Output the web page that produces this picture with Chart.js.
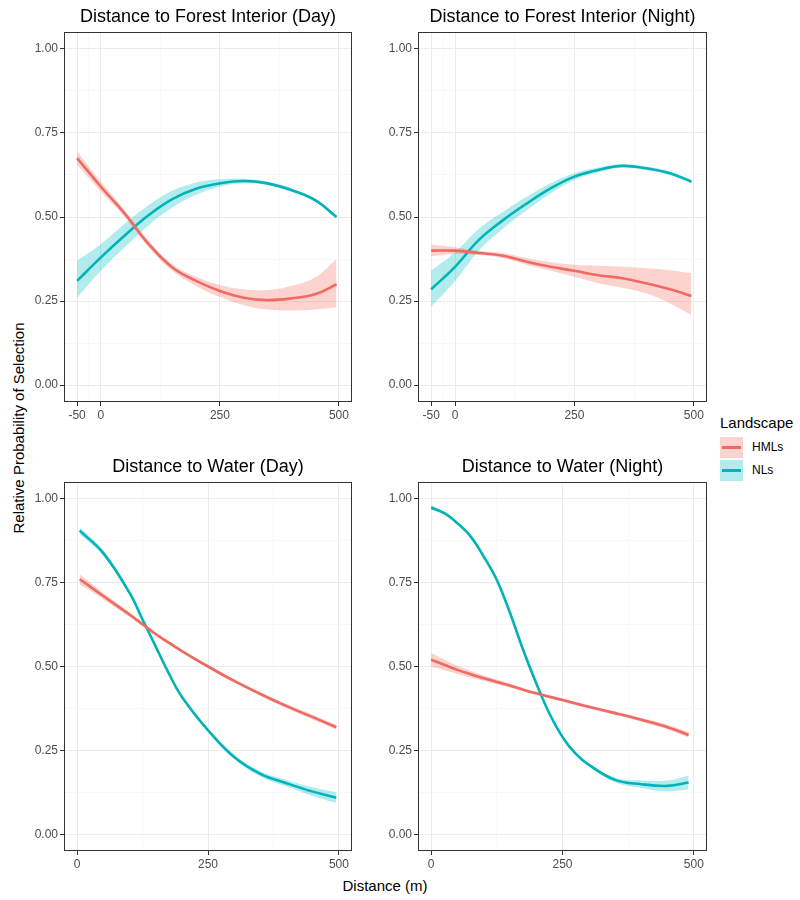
<!DOCTYPE html>
<html lang="en">
<head>
<meta charset="UTF-8">
<title>Relative Probability of Selection</title>
<script src="https://cdn.jsdelivr.net/npm/chart.js"></script>
<style>
  body { margin: 0; background: #fff; font-family: Arial, "Liberation Sans", sans-serif; }
  #wrap { position: relative; width: 800px; height: 900px; overflow: hidden; }
  #wrap canvas { position: absolute; }
  .ytitle { position: absolute; left: 18px; top: 428px; transform: translate(-50%, -50%) rotate(-90deg); font-size: 15px; color: #000; white-space: nowrap; }
  .xtitle { position: absolute; left: 385px; top: 885px; transform: translate(-50%, -50%); font-size: 15px; color: #000; white-space: nowrap; }
  .ltitle { position: absolute; left: 720px; top: 414px; font-size: 15px; line-height: 18px; color: #000; }
  .key { position: absolute; left: 720px; width: 23px; height: 21px; }
  .key i { position: absolute; left: 2px; right: 2px; top: 9px; height: 3px; }
  .lab { position: absolute; left: 752px; font-size: 12px; line-height: 21px; color: #000; }
</style>
</head>
<body>
<div id="wrap">
  <div class="ytitle">Relative Probability of Selection</div>
  <div class="xtitle">Distance (m)</div>
  <div class="ltitle">Landscape</div>
  <div class="key" style="top:437px; background:rgba(248,118,109,0.32)"><i style="background:#EF6A62"></i></div>
  <div class="lab" style="top:437px">HMLs</div>
  <div class="key" style="top:460px; background:rgba(0,191,196,0.3)"><i style="background:#00B3B9"></i></div>
  <div class="lab" style="top:460px">NLs</div>
</div>
<script>
// x ticks
const forestTicks = [-50, 0, 250, 500];
const forestMinor = [-25, 125, 375];
const waterTicks = [0, 250, 500];
const waterMinor = [125, 375];
const yTicks = [0, 0.25, 0.5, 0.75, 1];
const yMinor = [0.125, 0.375, 0.625, 0.875];

// Distance to Forest Interior (Day)
const xForestDay = [-50, 0, 50, 100, 150, 200, 250, 300, 350, 400, 450, 495];
const hmlForestDay   = [0.675, 0.59, 0.51, 0.42, 0.35, 0.31, 0.28, 0.26, 0.253, 0.258, 0.27, 0.30];
const hmlForestDayLo = [0.655, 0.575, 0.50, 0.41, 0.34, 0.295, 0.262, 0.238, 0.225, 0.222, 0.225, 0.232];
const hmlForestDayHi = [0.695, 0.605, 0.52, 0.43, 0.36, 0.322, 0.298, 0.285, 0.283, 0.295, 0.32, 0.375];
const nlForestDay   = [0.31, 0.38, 0.445, 0.505, 0.553, 0.584, 0.60, 0.607, 0.60, 0.58, 0.55, 0.50];
const nlForestDayLo = [0.26, 0.34, 0.41, 0.475, 0.528, 0.566, 0.59, 0.60, 0.595, 0.575, 0.545, 0.495];
const nlForestDayHi = [0.37, 0.42, 0.48, 0.535, 0.578, 0.602, 0.612, 0.614, 0.605, 0.585, 0.555, 0.505];

// Distance to Forest Interior (Night)
const xForestNight = [-50, 0, 50, 100, 150, 200, 250, 300, 350, 400, 450, 495];
const hmlForestNight   = [0.40, 0.40, 0.393, 0.385, 0.367, 0.352, 0.34, 0.327, 0.318, 0.303, 0.285, 0.265];
const hmlForestNightLo = [0.383, 0.39, 0.387, 0.378, 0.358, 0.34, 0.322, 0.303, 0.29, 0.273, 0.243, 0.208];
const hmlForestNightHi = [0.418, 0.41, 0.40, 0.393, 0.378, 0.366, 0.358, 0.355, 0.352, 0.348, 0.342, 0.333];
const nlForestNight   = [0.285, 0.352, 0.432, 0.49, 0.54, 0.585, 0.62, 0.64, 0.652, 0.645, 0.63, 0.605];
const nlForestNightLo = [0.233, 0.31, 0.40, 0.465, 0.52, 0.57, 0.61, 0.633, 0.647, 0.64, 0.625, 0.60];
const nlForestNightHi = [0.34, 0.395, 0.465, 0.515, 0.56, 0.60, 0.63, 0.647, 0.657, 0.65, 0.635, 0.61];

// Distance to Water (Day)
const xWaterDay = [5, 50, 100, 125, 150, 175, 200, 250, 300, 350, 400, 450, 495];
const hmlWaterDay   = [0.76, 0.71, 0.655, 0.626, 0.597, 0.571, 0.546, 0.50, 0.457, 0.418, 0.382, 0.349, 0.319];
const hmlWaterDayLo = [0.745, 0.70, 0.648, 0.620, 0.592, 0.566, 0.541, 0.495, 0.452, 0.413, 0.376, 0.342, 0.312];
const hmlWaterDayHi = [0.775, 0.72, 0.662, 0.632, 0.602, 0.576, 0.551, 0.505, 0.462, 0.423, 0.388, 0.356, 0.326];
const nlWaterDay   = [0.905, 0.838, 0.72, 0.64, 0.56, 0.48, 0.41, 0.31, 0.23, 0.18, 0.152, 0.127, 0.109];
const nlWaterDayLo = [0.895, 0.83, 0.714, 0.635, 0.555, 0.475, 0.405, 0.305, 0.224, 0.172, 0.142, 0.114, 0.093];
const nlWaterDayHi = [0.915, 0.846, 0.726, 0.645, 0.565, 0.485, 0.415, 0.315, 0.236, 0.188, 0.162, 0.140, 0.125];

// Distance to Water (Night)
const xWaterNight = [0, 25, 50, 75, 100, 125, 150, 175, 200, 225, 250, 275, 300, 350, 400, 450, 490];
const hmlWaterNight   = [0.52, 0.505, 0.49, 0.477, 0.465, 0.454, 0.443, 0.431, 0.42, 0.41, 0.40, 0.39, 0.38, 0.361, 0.341, 0.319, 0.296];
const hmlWaterNightLo = [0.50, 0.489, 0.478, 0.467, 0.457, 0.447, 0.437, 0.426, 0.415, 0.405, 0.395, 0.385, 0.375, 0.356, 0.335, 0.312, 0.288];
const hmlWaterNightHi = [0.54, 0.521, 0.502, 0.487, 0.473, 0.461, 0.449, 0.436, 0.425, 0.415, 0.405, 0.395, 0.385, 0.366, 0.347, 0.326, 0.304];
const nlWaterNight   = [0.974, 0.957, 0.927, 0.888, 0.828, 0.758, 0.66, 0.55, 0.45, 0.36, 0.29, 0.24, 0.207, 0.162, 0.149, 0.144, 0.154];
const nlWaterNightLo = [0.968, 0.952, 0.923, 0.884, 0.824, 0.754, 0.656, 0.546, 0.446, 0.356, 0.286, 0.236, 0.202, 0.155, 0.138, 0.128, 0.133];
const nlWaterNightHi = [0.980, 0.962, 0.931, 0.892, 0.832, 0.762, 0.664, 0.554, 0.454, 0.364, 0.294, 0.244, 0.212, 0.169, 0.160, 0.160, 0.175];

const HML_LINE = '#EF6A62', HML_FILL = 'rgba(248,118,109,0.32)';
const NL_LINE = '#00B3B9', NL_FILL = 'rgba(0,191,196,0.3)';

const panels = [
  { title: 'Distance to Forest Interior (Day)', x: xForestDay,
    hml: [hmlForestDay, hmlForestDayLo, hmlForestDayHi], nl: [nlForestDay, nlForestDayLo, nlForestDayHi],
    ticks: forestTicks, minor: forestMinor, min: -77.5, max: 527.5, left: 64, top: 32, right: 352, bottom: 402 },
  { title: 'Distance to Forest Interior (Night)', x: xForestNight,
    hml: [hmlForestNight, hmlForestNightLo, hmlForestNightHi], nl: [nlForestNight, nlForestNightLo, nlForestNightHi],
    ticks: forestTicks, minor: forestMinor, min: -77.5, max: 527.5, left: 418, top: 32, right: 707, bottom: 402 },
  { title: 'Distance to Water (Day)', x: xWaterDay,
    hml: [hmlWaterDay, hmlWaterDayLo, hmlWaterDayHi], nl: [nlWaterDay, nlWaterDayLo, nlWaterDayHi],
    ticks: waterTicks, minor: waterMinor, min: -25, max: 525, left: 64, top: 482, right: 352, bottom: 851 },
  { title: 'Distance to Water (Night)', x: xWaterNight,
    hml: [hmlWaterNight, hmlWaterNightLo, hmlWaterNightHi], nl: [nlWaterNight, nlWaterNightLo, nlWaterNightHi],
    ticks: waterTicks, minor: waterMinor, min: -25, max: 525, left: 418, top: 482, right: 707, bottom: 851 }
];

// ggplot-like panel border
const panelBorder = {
  id: 'panelBorder',
  afterDraw(chart) {
    const a = chart.chartArea, ctx = chart.ctx;
    ctx.save();
    ctx.strokeStyle = '#333333';
    ctx.lineWidth = 1;
    ctx.strokeRect(Math.round(a.left) + 0.5, Math.round(a.top) + 0.5,
      Math.round(a.right - a.left) - 1, Math.round(a.bottom - a.top) - 1);
    ctx.restore();
  }
};

function pts(xs, ys) {
  return xs.map((v, i) => ({ x: v, y: ys[i] }));
}

function tickList(major, minor) {
  return major.map(v => ({ value: v, major: true }))
    .concat(minor.map(v => ({ value: v, major: false })))
    .sort((a, b) => a.value - b.value);
}

function scaleOpts(min, max, major, minor, isX, padB, padL) {
  return {
    type: 'linear',
    min: min,
    max: max,
    afterBuildTicks: s => { s.ticks = tickList(major, minor); },
    afterFit: s => {
      if (isX) { s.height = padB; s.paddingLeft = 0; s.paddingRight = 0; }
      else { s.width = padL; s.paddingTop = 0; s.paddingBottom = 0; }
    },
    border: { display: false },
    grid: {
      color: ctx => ctx.tick && ctx.tick.major ? '#EBEBEB' : '#F4F4F4',
      lineWidth: ctx => ctx.tick && ctx.tick.major ? 1 : 0.6,
      tickColor: ctx => ctx.tick && ctx.tick.major ? '#333333' : 'rgba(0,0,0,0)',
      tickLength: 4,
      tickWidth: 1
    },
    ticks: {
      autoSkip: false,
      maxRotation: 0,
      padding: 2,
      color: '#4D4D4D',
      font: { family: 'Arial', size: 12 },
      callback: function (value, index, ticks) {
        if (!ticks[index].major) return '';
        return isX ? String(value) : value.toFixed(2);
      }
    }
  };
}

const wrap = document.getElementById('wrap');

panels.forEach(p => {
  const padL = 50, padR = 16, padT = 32, padB = 24;
  const canvas = document.createElement('canvas');
  canvas.width = (p.right - p.left) + padL + padR;
  canvas.height = (p.bottom - p.top) + padT + padB;
  canvas.style.left = (p.left - padL) + 'px';
  canvas.style.top = (p.top - padT) + 'px';
  wrap.appendChild(canvas);

  const line = (data, color) => ({
    data: data, borderColor: color, borderWidth: 2.6, pointRadius: 0,
    fill: false, tension: 0.4
  });
  const edge = (data, fill, color) => ({
    data: data, borderWidth: 0, borderColor: 'rgba(0,0,0,0)', pointRadius: 0,
    fill: fill, backgroundColor: color, tension: 0.4
  });

  new Chart(canvas, {
    type: 'line',
    data: {
      datasets: [
        line(pts(p.x, p.hml[0]), HML_LINE),
        line(pts(p.x, p.nl[0]), NL_LINE),
        edge(pts(p.x, p.hml[1]), false, HML_FILL),
        edge(pts(p.x, p.hml[2]), '-1', HML_FILL),
        edge(pts(p.x, p.nl[1]), false, NL_FILL),
        edge(pts(p.x, p.nl[2]), '-1', NL_FILL)
      ]
    },
    options: {
      responsive: false,
      animation: false,
      layout: { padding: { left: 0, right: padR, top: 0, bottom: 0 } },
      plugins: {
        legend: { display: false },
        tooltip: { enabled: false },
        title: {
          display: true,
          text: p.title,
          fullSize: false,
          color: '#000000',
          font: { family: 'Arial', size: 18, weight: 'normal', lineHeight: '22px' },
          padding: { top: 6, bottom: 4 }
        }
      },
      scales: {
        x: scaleOpts(p.min, p.max, p.ticks, p.minor, true, padB, padL),
        y: scaleOpts(-0.05, 1.05, yTicks, yMinor, false, padB, padL)
      }
    },
    plugins: [panelBorder]
  });
});
</script>
</body>
</html>
